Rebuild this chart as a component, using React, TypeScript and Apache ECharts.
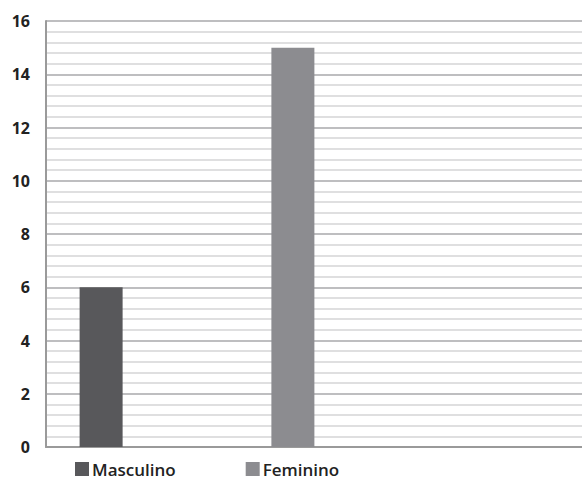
import React, { useEffect, useRef } from "react";
import * as echarts from "echarts";

// Chart data
const groupLabel = ["Sexo"];
const seriesNames = ["Masculino", "Feminino"];
const masculino = [6];
const feminino = [15];
const seriesColors = ["#58585b", "#8c8c90"];
const yMin = 0;
const yMax = 16;
const yStep = 2;

export default function App() {
  const ref = useRef<HTMLDivElement>(null);

  useEffect(() => {
    if (!ref.current) return;
    const chart = echarts.init(ref.current, undefined, { renderer: "svg" });
    const labelFont = {
      fontFamily: "'Open Sans', 'DejaVu Sans', sans-serif",
      fontWeight: 700 as const,
      color: "#222",
    };
    const option = {
      animation: false,
      backgroundColor: "#ffffff",
      grid: [
        // full-width grid carrying the axis lines and gridlines
        { left: 46, right: 0, top: 21, bottom: 35 },
        // grid holding the bars
        { left: 46, width: 302, top: 21, bottom: 35 },
      ],
      legend: {
        data: seriesNames,
        left: 70,
        top: 458,
        icon: "rect",
        itemWidth: 14,
        itemHeight: 14,
        itemGap: 70,
        padding: [2, 5],
        textStyle: {
          ...labelFont,
          fontSize: 17,
          fontWeight: 600,
          color: "#222",
          lineHeight: 18,
          padding: [0, 0, 0, -2],
        },
      },
      xAxis: [
        {
          type: "category",
          gridIndex: 0,
          data: [""],
          axisLine: { show: true, lineStyle: { color: "#9a9a9a", width: 2 } },
          axisTick: { show: false },
          axisLabel: { show: false },
          splitLine: { show: false },
        },
        {
          type: "category",
          gridIndex: 1,
          data: groupLabel,
          axisLine: { show: false },
          axisTick: { show: false },
          axisLabel: { show: false },
          splitLine: { show: false },
        },
      ],
      yAxis: [
        {
          type: "value",
          gridIndex: 0,
          min: yMin,
          max: yMax,
          interval: yStep,
          axisLine: { show: true, lineStyle: { color: "#9a9a9a", width: 2 } },
          axisTick: { show: false },
          axisLabel: { ...labelFont, fontSize: 16, margin: 16 },
          splitLine: { show: true, lineStyle: { color: "#a8a8ab", width: 1.5 } },
          minorTick: { show: false, splitNumber: 5 },
          minorSplitLine: { show: true, lineStyle: { color: "#d4d4d6", width: 1.5 } },
        },
        {
          type: "value",
          gridIndex: 1,
          min: yMin,
          max: yMax,
          interval: yStep,
          show: false,
          splitLine: { show: false },
        },
      ],
      series: [
        {
          name: seriesNames[0],
          type: "bar",
          xAxisIndex: 1,
          yAxisIndex: 1,
          data: masculino,
          barWidth: 43,
          barGap: "346%",
          itemStyle: { color: seriesColors[0] },
          z: 3,
        },
        {
          name: seriesNames[1],
          type: "bar",
          xAxisIndex: 1,
          yAxisIndex: 1,
          data: feminino,
          barWidth: 43,
          barGap: "346%",
          itemStyle: { color: seriesColors[1] },
          z: 3,
        },
      ],
    };
    chart.setOption(option);
    return () => chart.dispose();
  }, []);

  return (
    <div
      ref={ref}
      style={{ position: "absolute", left: 0, top: 0, width: 582, height: 482 }}
    />
  );
}
